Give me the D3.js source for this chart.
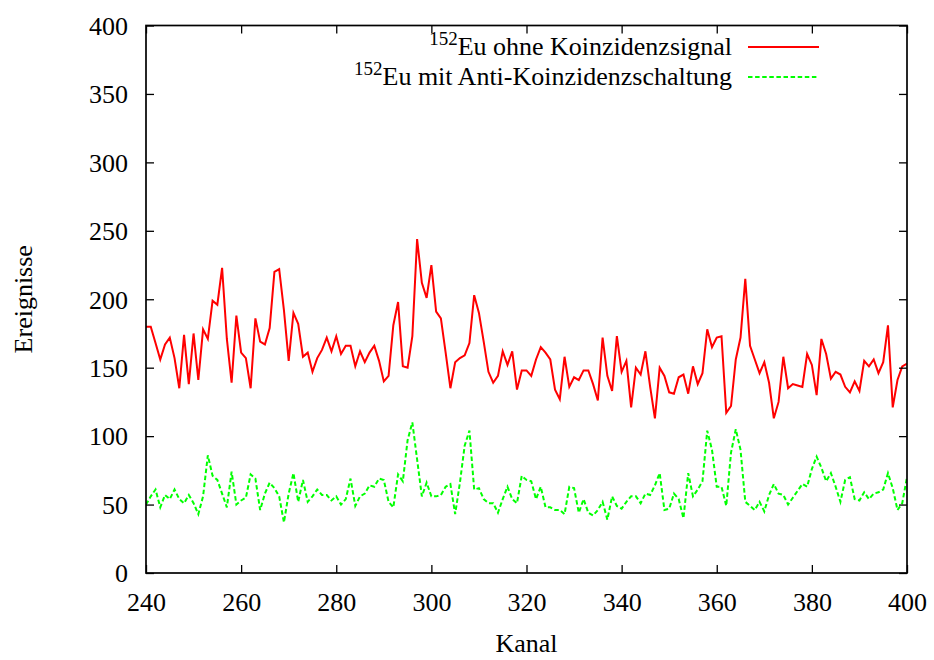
<!DOCTYPE html>
<html>
<head>
<meta charset="utf-8">
<script src="https://cdn.jsdelivr.net/npm/d3@7"></script>
<style>
  html, body { margin: 0; padding: 0; background: #fff; }
</style>
</head>
<body>
<svg id="chart" width="934" height="660"></svg>
<script>
// Kanal 240 ... 400, one count per channel
const channelStart = 240;

// 152Eu spectrum without coincidence signal
const ohneKoinzidenz = [
  180, 180, 168, 156, 167, 172, 157, 135, 174, 138,
  175, 141, 178, 171, 199, 196, 223, 171, 139, 188,
  161, 157, 135, 186, 169, 167, 179, 220, 222, 192,
  155, 190, 182, 158, 161, 147, 157, 163, 172, 162,
  173, 160, 166, 166, 151, 162, 154, 161, 166, 155,
  140, 144, 181, 198, 151, 150, 173, 244, 212, 201,
  225, 191, 186, 161, 135, 154, 157, 159, 168, 203,
  190, 169, 147, 139, 144, 162, 152, 162, 134, 148,
  148, 144, 156, 165, 161, 156, 134, 127, 158, 136,
  143, 141, 148, 148, 138, 126, 172, 144, 133, 173,
  147, 155, 121, 150, 145, 162, 136, 113, 150, 144,
  132, 131, 143, 145, 131, 151, 138, 146, 178, 165,
  172, 173, 117, 122, 156, 172, 215, 166, 156, 146,
  154, 139, 113, 125, 158, 135, 138, 137, 136, 160,
  152, 130, 171, 160, 142, 147, 145, 136, 132, 140,
  133, 155, 151, 156, 146, 154, 181, 121, 141, 151,
  153
];

// 152Eu spectrum with anti-coincidence circuit
const antiKoinzidenz = [
  50, 56, 61, 48, 57, 54, 61, 54, 51, 57,
  51, 43, 56, 86, 71, 68, 58, 48, 74, 50,
  53, 55, 72, 69, 46, 58, 66, 62, 56, 37,
  58, 73, 52, 68, 52, 56, 61, 57, 57, 53,
  56, 50, 54, 69, 49, 56, 58, 64, 63, 69,
  68, 52, 48, 72, 67, 97, 110, 83, 56, 66,
  56, 56, 57, 63, 65, 43, 66, 93, 104, 61,
  62, 54, 51, 51, 44, 54, 63, 54, 51, 71,
  68, 67, 54, 63, 48, 48, 46, 46, 43, 63,
  62, 44, 54, 44, 42, 46, 52, 39, 56, 49,
  47, 52, 56, 56, 51, 58, 57, 64, 73, 46,
  47, 58, 54, 40, 73, 56, 61, 67, 104, 90,
  63, 63, 49, 88, 105, 90, 52, 49, 46, 52,
  45, 57, 65, 58, 57, 50, 55, 60, 65, 63,
  76, 85, 77, 67, 73, 63, 52, 68, 70, 54,
  53, 59, 54, 58, 59, 61, 73, 62, 46, 51,
  70
];

const xTicks = [240, 260, 280, 300, 320, 340, 360, 380, 400];
const yTicks = [0, 50, 100, 150, 200, 250, 300, 350, 400];

const seriesLabels = [
  { sup: "152", text: "Eu ohne Koinzidenzsignal" },
  { sup: "152", text: "Eu mit Anti-Koinzidenzschaltung" }
];
const xLabel = "Kanal";
const yLabel = "Ereignisse";

// ---- layout
const svg = d3.select("#chart");
const W = 934, H = 660;
const m = { left: 146, right: 934 - 907, top: 25.5, bottom: 660 - 573 };
const fontSize = 26;
const FONT = '"Liberation Serif"';

svg.append("rect").attr("width", W).attr("height", H).attr("fill", "#fff");

const x = d3.scaleLinear().domain([240, 400]).range([m.left, W - m.right]);
const y = d3.scaleLinear().domain([0, 400]).range([H - m.bottom, m.top]);

const toPoints = arr => arr.map((v, i) => [channelStart + i, v]);
const line = d3.line().x(d => x(d[0])).y(d => y(d[1]));

// clip the traces to the frame
svg.append("defs").append("clipPath").attr("id", "plotclip")
  .append("rect")
  .attr("x", x(240)).attr("y", y(400))
  .attr("width", x(400) - x(240)).attr("height", y(0) - y(400));

const traces = svg.append("g").attr("clip-path", "url(#plotclip)");
traces.append("path")
  .attr("d", line(toPoints(ohneKoinzidenz)))
  .attr("fill", "none").attr("stroke", "#ff0000")
  .attr("stroke-width", 2).attr("stroke-linejoin", "miter");
traces.append("path")
  .attr("d", line(toPoints(antiKoinzidenz)))
  .attr("fill", "none").attr("stroke", "#00ff00")
  .attr("stroke-width", 2).attr("stroke-dasharray", "4.5,2.6");

// ---- axes with inward ticks on all four sides
const tick = 8;
function styleAxis(g) {
  g.attr("font-family", null).attr("font-size", null);
  g.select(".domain").remove();
  g.selectAll(".tick line").attr("stroke", "#000").attr("stroke-width", 1.3);
}

const gBottom = svg.append("g").attr("transform", `translate(0,${y(0)})`)
  .call(d3.axisBottom(x).tickValues(xTicks).tickSize(-tick).tickFormat(d3.format("d")));
styleAxis(gBottom);
gBottom.selectAll(".tick text")
  .attr("y", 38).attr("dy", null)
  .attr("fill", "#000")
  .style("font-size", fontSize + "px").style("font-family", FONT);

const gTop = svg.append("g").attr("transform", `translate(0,${y(400)})`)
  .call(d3.axisTop(x).tickValues(xTicks).tickSize(-tick).tickFormat(""));
styleAxis(gTop);

const gLeft = svg.append("g").attr("transform", `translate(${x(240)},0)`)
  .call(d3.axisLeft(y).tickValues(yTicks).tickSize(-tick).tickFormat(d3.format("d")));
styleAxis(gLeft);
gLeft.selectAll(".tick text")
  .attr("x", -18).attr("dy", "0.34em")
  .attr("fill", "#000")
  .style("font-size", fontSize + "px").style("font-family", FONT);

const gRight = svg.append("g").attr("transform", `translate(${x(400)},0)`)
  .call(d3.axisRight(y).tickValues(yTicks).tickSize(-tick).tickFormat(""));
styleAxis(gRight);

// frame
svg.append("rect")
  .attr("x", x(240)).attr("y", y(400))
  .attr("width", x(400) - x(240)).attr("height", y(0) - y(400))
  .attr("fill", "none").attr("stroke", "#000").attr("stroke-width", 1.7);

// ---- axis titles
svg.append("text")
  .attr("x", (x(240) + x(400)) / 2).attr("y", 652)
  .attr("text-anchor", "middle")
  .style("font-size", fontSize + "px").style("font-family", FONT)
  .text(xLabel);

svg.append("text")
  .attr("transform", `translate(32,${(y(0) + y(400)) / 2}) rotate(-90)`)
  .attr("text-anchor", "middle")
  .style("font-size", fontSize + "px").style("font-family", FONT)
  .text(yLabel);

// ---- legend
const legendTextRight = 732;
const legendLine = [748, 819];
const legendRows = [47, 77];
const legendColors = ["#ff0000", "#00ff00"];
const legendDash = [null, "4.5,2.6"];

seriesLabels.forEach((s, i) => {
  const t = svg.append("text")
    .attr("x", legendTextRight).attr("y", legendRows[i] + 8)
    .attr("text-anchor", "end")
    .style("font-size", fontSize + "px").style("font-family", FONT);
  t.append("tspan").style("font-size", "19px").attr("dy", -10).text(s.sup);
  t.append("tspan").attr("dy", 10).text(s.text);

  svg.append("line")
    .attr("x1", legendLine[0]).attr("x2", legendLine[1])
    .attr("y1", legendRows[i]).attr("y2", legendRows[i])
    .attr("stroke", legendColors[i]).attr("stroke-width", 2)
    .attr("stroke-dasharray", legendDash[i]);
});
</script>
</body>
</html>
